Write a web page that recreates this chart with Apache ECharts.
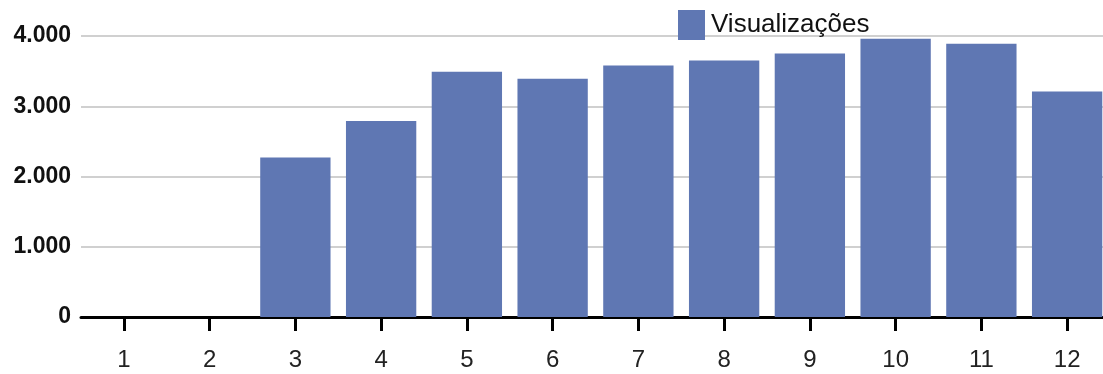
<!DOCTYPE html>
<html>
<head>
<meta charset="utf-8">
<script src="https://cdn.jsdelivr.net/npm/echarts@6/dist/echarts.min.js"></script>
<style>
  html, body { margin: 0; padding: 0; background: #ffffff; }
  #chart { width: 1103px; height: 374px; }
</style>
</head>
<body>
<div id="chart"></div>
<script>
// Monthly views
const months = ['1', '2', '3', '4', '5', '6', '7', '8', '9', '10', '11', '12'];
const views = [0, 0, 2270, 2790, 3490, 3390, 3580, 3650, 3750, 3960, 3890, 3210];
const seriesName = 'Visualizações';

const fontFamily = '"Liberation Sans", Arial, sans-serif';

const chart = echarts.init(document.getElementById('chart'), null, { renderer: 'canvas' });

chart.setOption({
  animation: false,
  backgroundColor: '#ffffff',
  // the plot runs past the right edge of the canvas, so the last bar is cut off
  grid: { left: 81, top: 36, width: 1029, height: 281, containLabel: false, outerBoundsMode: 'none' },
  legend: {
    data: [seriesName],
    left: 678,
    top: 10,
    itemWidth: 27,
    itemHeight: 30,
    itemGap: 7,
    icon: 'rect',
    textStyle: { fontFamily, fontSize: 26, color: '#111111', padding: [0, 0, 0, 1] },
    padding: 0
  },
  xAxis: {
    type: 'category',
    data: months,
    boundaryGap: true,
    axisLine: { show: true, lineStyle: { color: '#000000', width: 3 } },
    axisTick: { show: true, alignWithLabel: true, length: 14, lineStyle: { color: '#000000', width: 3 } },
    axisLabel: { fontFamily, fontSize: 24, color: '#222222', margin: 31 },
    splitLine: { show: false }
  },
  yAxis: {
    type: 'value',
    min: 0,
    max: 4000,
    interval: 1000,
    axisLine: { show: false },
    axisTick: { show: false },
    axisLabel: {
      fontFamily,
      fontSize: 23,
      fontWeight: 'bold',
      color: '#111111',
      margin: 10,
      formatter: v => v.toLocaleString('de-DE')
    },
    splitLine: { show: true, lineStyle: { color: '#d0d0d0', width: 2 } }
  },
  series: [{
    name: seriesName,
    type: 'bar',
    data: views,
    barCategoryGap: '18%',
    itemStyle: { color: '#5f77b3' }
  }]
});
</script>
</body>
</html>
